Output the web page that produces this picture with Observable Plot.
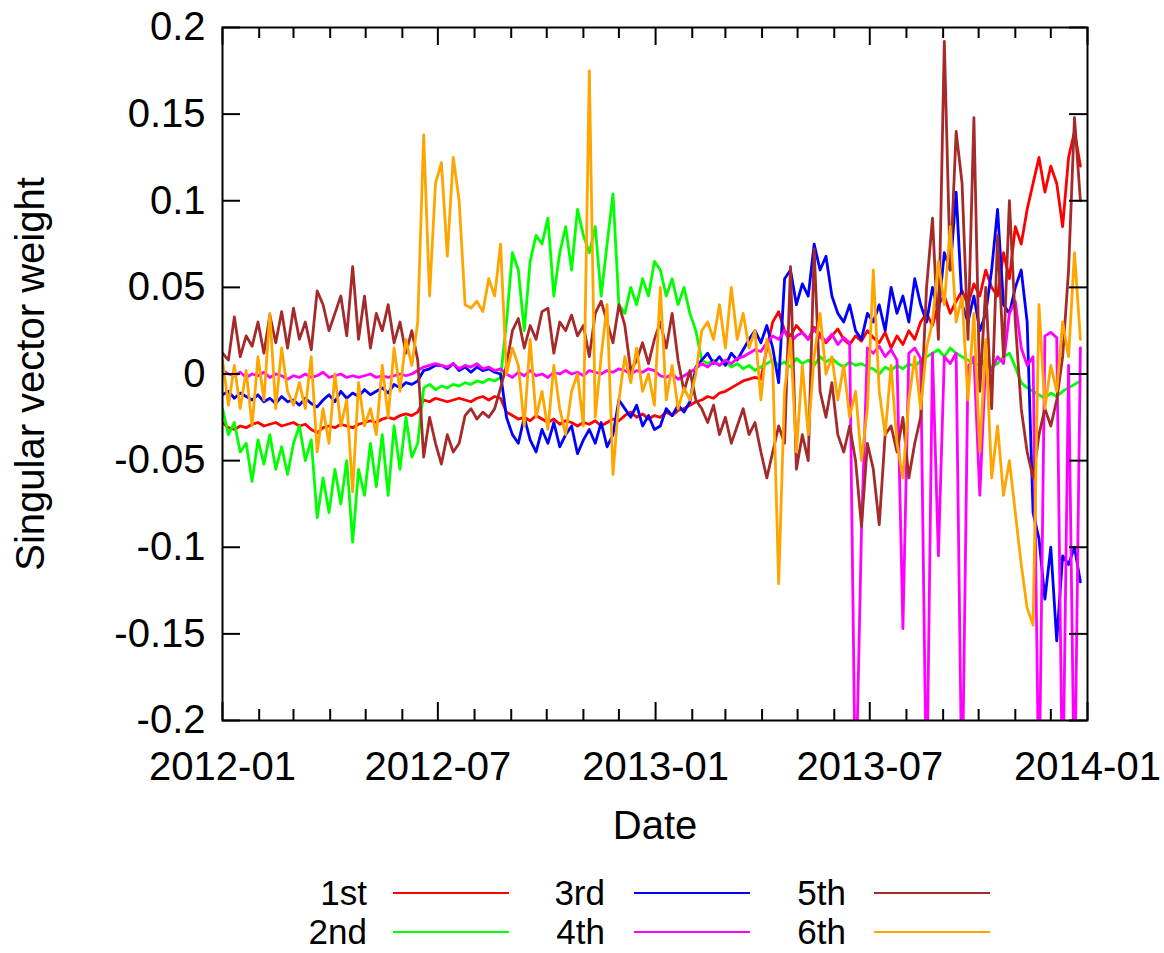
<!DOCTYPE html>
<html>
<head>
<meta charset="utf-8">
<script src="https://cdn.jsdelivr.net/npm/d3@7"></script>
<script src="https://cdn.jsdelivr.net/npm/@observablehq/plot@0.6"></script>
<style>
  body { margin: 0; background: #fff; font-family: "Liberation Sans", Arial, sans-serif; overflow: hidden; }
  #chart { width: 1164px; }
  #legend { position: relative; width: 1164px; height: 92px; }
  .lab { position: absolute; font-size: 35px; line-height: 28px; height: 28px; text-align: right; width: 120px; color: #000; }
  .sw { position: absolute; height: 0; border-top-style: solid; border-top-width: 2.5px; }
</style>
</head>
<body>
<div id="chart"></div>
<div id="legend"></div>
<script>
// ---- data (one sample every 5 days from 2012-01-01) ----
const startDate = "2012-01-01";
const stepDays = 5;

const seriesNames = ["1st", "2nd", "3rd", "4th", "5th", "6th"];
const seriesColors = ["#ff0000", "#00ff00", "#0000ff", "#ff00ff", "#a52a2a", "#ffa500"];

const s1st = [
  -0.028, -0.031, -0.032, -0.030, -0.031, -0.029, -0.028, -0.030, -0.029, -0.028,
  -0.030, -0.029, -0.028, -0.030, -0.029, -0.032, -0.034, -0.031, -0.030, -0.031,
  -0.029, -0.030, -0.031, -0.029, -0.028, -0.027, -0.028, -0.026, -0.025, -0.026,
  -0.024, -0.023, -0.024, -0.022, -0.015, -0.016, -0.014, -0.015, -0.016, -0.015,
  -0.014, -0.015, -0.016, -0.014, -0.013, -0.015, -0.013, -0.014, -0.022, -0.024,
  -0.026, -0.025, -0.027, -0.024, -0.026, -0.028, -0.026, -0.029, -0.027, -0.028,
  -0.030, -0.028, -0.029, -0.027, -0.030, -0.028, -0.026, -0.027, -0.024, -0.022,
  -0.025, -0.023, -0.026, -0.024, -0.025, -0.022, -0.024, -0.021, -0.020, -0.018,
  -0.016, -0.015, -0.013, -0.014, -0.011, -0.010, -0.008, -0.006, -0.004, -0.003,
  -0.002, -0.003, 0.015, 0.030, 0.036, 0.025, 0.022, 0.028, 0.024, 0.020,
  0.027, 0.023, 0.018, 0.022, 0.026, 0.020, 0.017, 0.022, 0.019, 0.025,
  0.021, 0.018, 0.024, 0.015, 0.022, 0.017, 0.025, 0.020, 0.030, 0.035,
  0.028, 0.040, 0.045, 0.035, 0.042, 0.048, 0.040, 0.052, 0.045, 0.060,
  0.050, 0.045, 0.070, 0.055, 0.085, 0.075, 0.095, 0.110, 0.125, 0.105,
  0.120, 0.110, 0.085, 0.125, 0.140, 0.120
];

const s2nd = [
  -0.020, -0.035, -0.028, -0.045, -0.040, -0.062, -0.038, -0.052, -0.035, -0.055,
  -0.042, -0.058, -0.040, -0.030, -0.050, -0.038, -0.083, -0.060, -0.080, -0.055,
  -0.075, -0.050, -0.097, -0.055, -0.070, -0.040, -0.065, -0.035, -0.070, -0.030,
  -0.055, -0.025, -0.048, -0.040, -0.008, -0.006, -0.009, -0.007, -0.008, -0.006,
  -0.007, -0.005, -0.006, -0.004, -0.005, -0.003, -0.004, -0.002, 0.030, 0.070,
  0.060, 0.025, 0.065, 0.080, 0.075, 0.090, 0.045, 0.070, 0.085, 0.060,
  0.095, 0.080, 0.070, 0.085, 0.045, 0.075, 0.104, 0.040, 0.035, 0.050,
  0.040, 0.055, 0.045, 0.065, 0.060, 0.045, 0.055, 0.040, 0.050, 0.035,
  0.025, 0.008, 0.006, 0.008, 0.005, 0.007, 0.004, 0.006, 0.003, 0.005,
  0.002, 0.004, 0.006, 0.008, 0.005, 0.007, 0.004, 0.009, 0.006, 0.008,
  0.005, 0.010, 0.007, 0.009, 0.006, 0.004, 0.007, 0.005, 0.006, 0.004,
  0.003, 0.000, 0.004, 0.002, 0.005, 0.003, 0.006, 0.004, 0.008, 0.010,
  0.012, 0.014, 0.010, 0.015, 0.012, 0.010, 0.008, 0.006, 0.005, 0.008,
  0.004, 0.006, 0.010, 0.012, 0.004, -0.005, -0.008, -0.010, -0.012, -0.014,
  -0.011, -0.013, -0.010, -0.008, -0.006, -0.004
];

const s3rd = [
  -0.012, -0.010, -0.014, -0.011, -0.013, -0.015, -0.012, -0.016, -0.014, -0.017,
  -0.013, -0.016, -0.015, -0.018, -0.014, -0.017, -0.019, -0.015, -0.012, -0.016,
  -0.010, -0.014, -0.011, -0.013, -0.009, -0.012, -0.010, -0.008, -0.011, -0.006,
  -0.008, -0.005, -0.006, -0.004, 0.002, 0.003, 0.005, 0.005, 0.003, 0.006,
  0.002, 0.004, 0.001, 0.004, 0.002, 0.003, 0.001, 0.000, -0.025, -0.035,
  -0.040, -0.025, -0.038, -0.045, -0.032, -0.040, -0.028, -0.042, -0.035, -0.030,
  -0.046, -0.038, -0.032, -0.040, -0.028, -0.042, -0.035, -0.015, -0.020, -0.025,
  -0.018, -0.030, -0.024, -0.032, -0.030, -0.020, -0.024, -0.018, -0.022, -0.016,
  0.004, 0.008, 0.012, 0.006, 0.010, 0.005, 0.012, 0.008, 0.014, 0.020,
  0.025, 0.018, 0.028, 0.015, -0.005, 0.055, 0.060, 0.040, 0.052, 0.045,
  0.075, 0.060, 0.068, 0.045, 0.035, 0.030, 0.040, 0.025, 0.020, 0.035,
  0.030, 0.040, 0.025, 0.050, 0.035, 0.045, 0.030, 0.055, 0.040, 0.030,
  0.050, 0.035, 0.070, 0.060, 0.105, 0.040, 0.030, 0.045, 0.025, 0.035,
  0.060, 0.095, 0.040, 0.035, 0.050, 0.060, 0.030, -0.080, -0.095, -0.130,
  -0.100, -0.154, -0.105, -0.110, -0.100, -0.120
];

const s4th = [
  0.002, 0.000, -0.001, 0.001, -0.002, 0.000, -0.001, 0.001, -0.002, 0.000,
  -0.001, -0.003, -0.001, -0.002, 0.000, -0.002, -0.001, 0.001, -0.002, -0.001,
  0.000, -0.002, -0.001, -0.002, -0.001, 0.000, -0.002, -0.001, -0.002, -0.001,
  0.000, -0.001, 0.000, 0.002, 0.004, 0.005, 0.006, 0.005, 0.004, 0.006,
  0.003, 0.005, 0.004, 0.006, 0.003, 0.004, 0.002, 0.003, 0.000, -0.002,
  0.001, -0.001, 0.002, -0.001, 0.000, -0.002, 0.001, 0.000, 0.002, 0.000,
  0.001, -0.001, 0.002, 0.001, 0.000, 0.002, 0.001, 0.003, 0.002, 0.000,
  0.002, 0.001, 0.003, 0.002, -0.001, -0.002, 0.000, -0.003, -0.001, 0.001,
  0.003, 0.006, 0.004, 0.007, 0.005, 0.008, 0.006, 0.009, 0.010, 0.012,
  0.014, 0.013, 0.018, 0.022, 0.020, 0.025, 0.018, 0.022, 0.024, 0.020,
  0.026, 0.021, 0.019, 0.023, 0.017, 0.021, 0.018, -0.250, -0.090, 0.015,
  0.012, 0.016, 0.010, 0.014, 0.008, -0.147, 0.012, 0.015, 0.009, -0.250,
  0.012, -0.105, 0.010, 0.006, 0.012, -0.250, 0.004, 0.010, -0.070, 0.008,
  0.002, 0.010, 0.006, 0.035, 0.042, 0.015, 0.005, 0.010, -0.250, 0.022,
  0.024, 0.021, -0.250, 0.005, -0.250, 0.015
];

const s5th = [
  0.012, 0.008, 0.033, 0.010, 0.022, 0.016, 0.030, 0.012, 0.034, 0.018,
  0.036, 0.015, 0.038, 0.020, 0.030, 0.014, 0.048, 0.040, 0.025, 0.035,
  0.045, 0.022, 0.062, 0.020, 0.045, 0.015, 0.035, 0.025, 0.040, 0.018,
  0.030, 0.012, 0.025, 0.008, -0.048, -0.025, -0.040, -0.052, -0.035, -0.045,
  -0.040, -0.024, -0.020, -0.026, -0.022, -0.025, -0.020, -0.008, 0.005, 0.025,
  0.032, 0.015, 0.028, 0.020, 0.036, 0.038, 0.012, 0.030, 0.025, 0.034,
  0.022, 0.028, 0.010, 0.035, 0.042, 0.030, 0.018, 0.040, 0.028, 0.002,
  0.008, 0.018, 0.006, 0.020, 0.030, 0.015, 0.035, 0.008, -0.010, 0.002,
  -0.015, -0.020, -0.028, -0.018, -0.035, -0.025, -0.040, -0.030, -0.020, -0.035,
  -0.028, -0.045, -0.060, -0.045, -0.030, -0.040, 0.062, -0.055, -0.035, -0.050,
  0.072, -0.010, -0.025, -0.005, -0.035, -0.045, -0.030, -0.050, -0.088, -0.040,
  -0.055, -0.087, -0.035, -0.030, -0.045, -0.025, -0.060, -0.040, -0.025, 0.050,
  0.090, 0.020, 0.192, 0.060, 0.140, 0.110, 0.020, 0.148, -0.010, 0.050,
  -0.020, 0.080, 0.010, 0.100, 0.030, -0.020, -0.045, -0.060, -0.035, -0.020,
  -0.030, -0.015, 0.010, 0.060, 0.148, 0.100
];

const s6th = [
  0.008, -0.018, 0.005, -0.020, 0.002, -0.030, 0.010, -0.015, 0.035, -0.020,
  0.015, -0.010, -0.018, -0.005, -0.020, 0.010, -0.045, -0.020, -0.040, 0.000,
  -0.030, -0.015, -0.068, -0.005, -0.030, -0.020, -0.035, 0.005, -0.025, 0.015,
  -0.010, 0.020, 0.005, 0.030, 0.138, 0.045, 0.110, 0.122, 0.068, 0.125,
  0.100, 0.040, 0.038, 0.042, 0.036, 0.055, 0.045, 0.075, 0.000, 0.015,
  0.005, -0.030, 0.020, -0.025, -0.010, -0.032, 0.005, -0.020, -0.035, -0.010,
  0.000, -0.030, 0.175, -0.025, 0.010, 0.040, -0.058, -0.015, 0.010, -0.005,
  0.015, -0.010, 0.000, -0.018, 0.050, -0.015, 0.005, -0.020, -0.008, -0.015,
  0.000, 0.025, 0.030, 0.020, 0.040, 0.015, 0.050, 0.020, 0.035, 0.015,
  0.025, -0.015, 0.020, 0.005, -0.121, -0.010, 0.020, -0.045, 0.005, -0.035,
  0.010, 0.035, 0.000, 0.010, -0.015, 0.005, -0.025, -0.010, -0.050, -0.020,
  0.060, -0.010, -0.035, 0.005, -0.040, -0.060, -0.015, 0.010, -0.020, 0.015,
  0.030, 0.065, 0.040, 0.085, 0.030, 0.045, -0.015, 0.035, -0.045, 0.020,
  -0.060, -0.030, -0.070, -0.050, -0.080, -0.110, -0.135, -0.145, 0.040, -0.020,
  0.005, -0.010, 0.030, 0.010, 0.070, 0.020
];

const seriesValues = [s1st, s2nd, s3rd, s4th, s5th, s6th];

const yTicks = [-0.2, -0.15, -0.1, -0.05, 0, 0.05, 0.1, 0.15, 0.2];
const yTickLabels = ["-0.2", "-0.15", "-0.1", "-0.05", "0", "0.05", "0.1", "0.15", "0.2"];
const xMajorTicks = ["2012-01-01", "2012-07-01", "2013-01-01", "2013-07-01", "2014-01-01"];
const xMajorLabels = ["2012-01", "2012-07", "2013-01", "2013-07", "2014-01"];
const xDomain = ["2012-01-01", "2014-01-01"];
const xTitle = "Date";
const yTitle = "Singular vector weight";

// ---- build tables ----
const t0 = new Date(startDate + "T00:00:00Z");
const tables = seriesValues.map((vals, k) =>
  vals.map((v, i) => ({ date: d3.utcDay.offset(t0, i * stepDays), value: v, series: seriesNames[k] }))
);
const majorDates = xMajorTicks.map(s => new Date(s + "T00:00:00Z"));
const minorDates = d3.utcMonth.range(new Date(xDomain[0] + "T00:00:00Z"), new Date(xDomain[1] + "T00:00:00Z"))
  .filter(d => !majorDates.some(m => +m === +d));

const W = 1164, H = 860;
const mL = 222, mR = 77, mT = 27, mB = 140;
const innerW = W - mL - mR, innerH = H - mT - mB;
const majorLen = 18, minorLen = 11;

const marks = [];
tables.forEach((tb, k) => {
  marks.push(Plot.lineY(tb, { x: "date", y: "value", stroke: seriesColors[k], strokeWidth: 2.8, clip: true, strokeLinejoin: "round" }));
});
// inward ticks (left/right)
marks.push(Plot.tickY(yTicks, { y: d => d, stroke: "black", strokeWidth: 2, insetRight: innerW - majorLen }));
marks.push(Plot.tickY(yTicks, { y: d => d, stroke: "black", strokeWidth: 2, insetLeft: innerW - majorLen }));
// inward ticks (bottom/top)
marks.push(Plot.tickX(majorDates, { x: d => d, stroke: "black", strokeWidth: 2, insetTop: innerH - majorLen }));
marks.push(Plot.tickX(majorDates, { x: d => d, stroke: "black", strokeWidth: 2, insetBottom: innerH - majorLen }));
marks.push(Plot.tickX(minorDates, { x: d => d, stroke: "black", strokeWidth: 2, insetTop: innerH - minorLen }));
marks.push(Plot.tickX(minorDates, { x: d => d, stroke: "black", strokeWidth: 2, insetBottom: innerH - minorLen }));
marks.push(Plot.frame({ stroke: "black", strokeWidth: 2 }));
// tick labels
marks.push(Plot.axisY(yTicks, {
  anchor: "left", tickSize: 0, tickPadding: 17, fontSize: 40, label: null,
  tickFormat: d => yTickLabels[yTicks.indexOf(d)]
}));
marks.push(Plot.axisX(majorDates, {
  anchor: "bottom", tickSize: 0, tickPadding: 31, fontSize: 40, label: null,
  tickFormat: d => xMajorLabels[majorDates.findIndex(m => +m === +d)]
}));
// axis titles
marks.push(Plot.text([xTitle], { text: d => d, frameAnchor: "bottom", dy: 106, fontSize: 40, lineAnchor: "middle", fill: "black" }));
marks.push(Plot.text([yTitle], { text: d => d, frameAnchor: "left", dx: -191, rotate: -90, fontSize: 40, lineAnchor: "middle", textAnchor: "middle", fill: "black" }));

const chart = Plot.plot({
  width: W, height: H,
  marginLeft: mL, marginRight: mR, marginTop: mT, marginBottom: mB,
  style: { fontFamily: "'Liberation Sans', Arial, sans-serif", fontSize: "40px", color: "black", background: "white", overflow: "visible" },
  x: { type: "utc", domain: xDomain.map(s => new Date(s + "T00:00:00Z")) },
  y: { domain: [-0.2, 0.2] },
  marks
});
document.getElementById("chart").appendChild(chart);

// ---- legend (below the SVG) ----
const legend = document.getElementById("legend");
const labelRight = [367, 605, 846];
const lineStart = [393, 634, 874];
const lineLen = 116;
const rowCenter = [33, 72];
seriesNames.forEach((name, k) => {
  const col = Math.floor(k / 2), row = k % 2;
  const lab = document.createElement("div");
  lab.className = "lab";
  lab.textContent = name;
  lab.style.left = (labelRight[col] - 120) + "px";
  lab.style.top = (rowCenter[row] - 14) + "px";
  legend.appendChild(lab);
  const sw = document.createElement("div");
  sw.className = "sw";
  sw.style.left = lineStart[col] + "px";
  sw.style.width = lineLen + "px";
  sw.style.top = (rowCenter[row] - 1) + "px";
  sw.style.borderTopColor = seriesColors[k];
  legend.appendChild(sw);
});
</script>
</body>
</html>
